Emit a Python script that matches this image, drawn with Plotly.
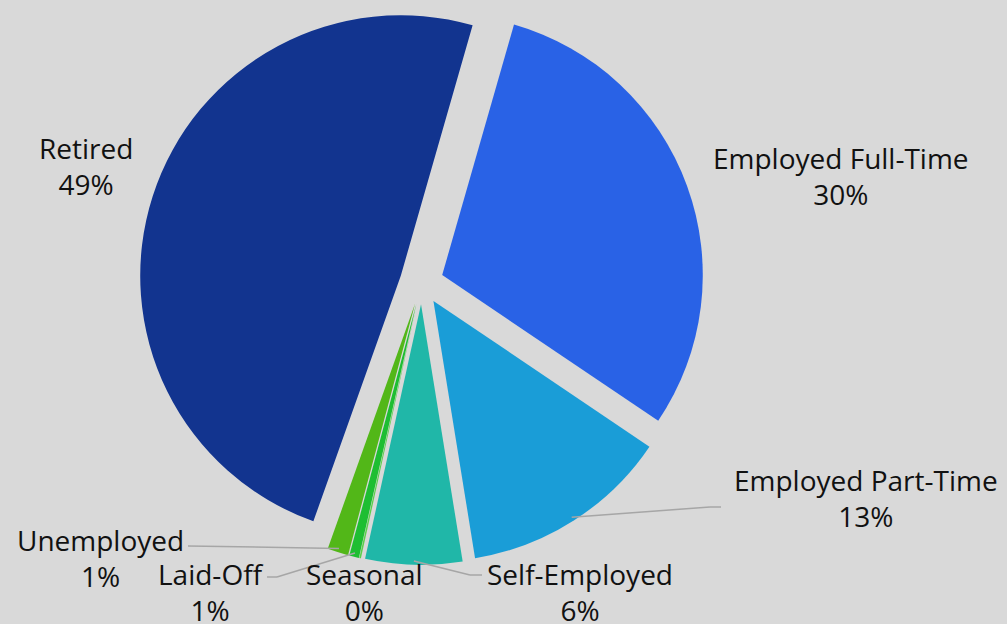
import math
import plotly.graph_objects as go

# ---------------- data ----------------
categories = ["Employed Full-Time", "Employed Part-Time", "Self-Employed",
              "Seasonal", "Laid-Off", "Unemployed", "Retired"]
values = [30.0, 13.0, 6.0, 0.1, 0.6, 1.3, 49.0]
colors = ["#2962e6", "#1a9dd7", "#20b7a8", "#5ad04a", "#1ebe32", "#52b718", "#12348f"]

# ---------------- layout constants ----------------
W, H = 1007, 624
PULL = 0.084
ROTATION = 16
DOM_X = [0.1382, 0.6992]
DOM_Y = [0.0946, 1.0]

# label block centres (pixels) and leader-line elbow/end points (pixels)
label_pos = {
    "Retired": (86, 166),
    "Employed Full-Time": (841, 176),
    "Employed Part-Time": (866, 498),
    "Self-Employed": (580, 592),
    "Seasonal": (364, 592),
    "Laid-Off": (211, 592),
    "Unemployed": (100, 558),
}
leader = {
    "Employed Part-Time": [(710, 507), (721, 507)],
    "Self-Employed": [(470, 575), (482, 575)],
    "Laid-Off": [(277, 577), (267, 577)],
    "Unemployed": [(188, 546)],
}
FONT = dict(family="Open Sans", size=28, color="#111111")
LINE = dict(color="#a6a6a6", width=1.5)

fig = go.Figure(go.Pie(
    labels=categories,
    values=values,
    sort=False,
    direction="clockwise",
    rotation=ROTATION,
    pull=[PULL] * len(values),
    marker=dict(colors=colors, line=dict(width=0)),
    textinfo="none",
    domain=dict(x=DOM_X, y=DOM_Y),
    showlegend=False,
    hoverinfo="label+percent",
))

# geometry of the pie as plotly lays it out
box_w = (DOM_X[1] - DOM_X[0]) * W
box_h = (DOM_Y[1] - DOM_Y[0]) * H
R = min(box_w, box_h) / (2 + 2 * PULL)
CX = W * (DOM_X[0] + DOM_X[1]) / 2
CY = H * (2 - DOM_Y[0] - DOM_Y[1]) / 2


def px2paper(x, y):
    return x / W, 1 - y / H


total = sum(values)
cum = 0.0
annotations = []
shapes = []
for cat, v in zip(categories, values):
    mid = math.radians(ROTATION + (cum + v / 2) / total * 360)
    cum += v
    pct = round(v / total * 100)
    lx, ly = label_pos[cat]
    px, py = px2paper(lx, ly)
    annotations.append(dict(
        x=px, y=py, xref="paper", yref="paper", xanchor="center", yanchor="middle",
        text=f"{cat}<br>{pct}%", showarrow=False, align="center", font=FONT,
    ))
    if cat in leader:
        # start of leader line: outer edge of the (pulled) slice at its mid angle
        sx = CX + (R * PULL + R * 0.985) * math.sin(mid)
        sy = CY - (R * PULL + R * 0.985) * math.cos(mid)
        pts = [(sx, sy)] + leader[cat]
        for (x0, y0), (x1, y1) in zip(pts[:-1], pts[1:]):
            a0 = px2paper(x0, y0)
            a1 = px2paper(x1, y1)
            shapes.append(dict(type="line", xref="paper", yref="paper",
                               x0=a0[0], y0=a0[1], x1=a1[0], y1=a1[1], line=LINE))

fig.update_layout(
    width=W, height=H,
    margin=dict(l=0, r=0, t=0, b=0),
    paper_bgcolor="#d9d9d9",
    plot_bgcolor="#d9d9d9",
    annotations=annotations,
    shapes=shapes,
)

fig.write_html("out.html", config={"displayModeBar": False},
               post_script="document.body.style.margin='0';")
